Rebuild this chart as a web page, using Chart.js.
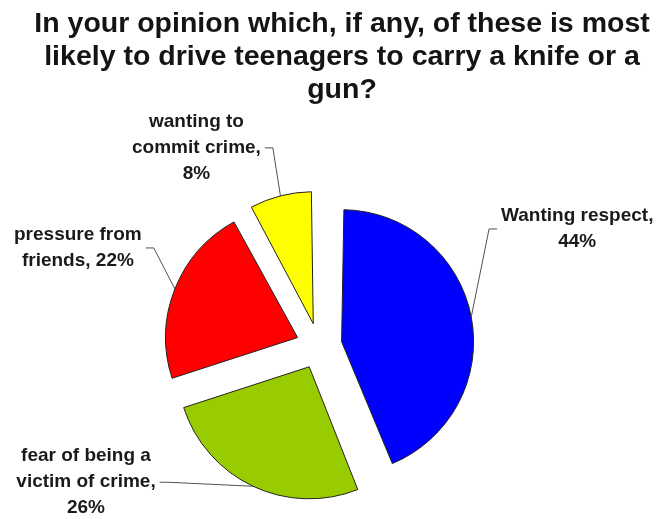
<!DOCTYPE html>
<html>
<head>
<meta charset="utf-8">
<script src="https://cdn.jsdelivr.net/npm/chart.js@4/dist/chart.umd.min.js"></script>
<style>
    html, body { margin: 0; padding: 0; background: #fff; }
    #wrap { position: relative; width: 660px; height: 519px; overflow: hidden; }
    #wrap canvas { position: absolute; left: 0; top: 0; }
    #title {
        position: absolute; left: 0; top: 6px; width: 684px;
        text-align: center; color: #141414;
        font: bold 28.5px "Liberation Sans", Arial, sans-serif; line-height: 33px;
    }
</style>
</head>
<body>
<div id="wrap">
    <canvas id="chart" width="660" height="519"></canvas>
    <div id="title">In your opinion which, if any, of these is most<br>likely to drive teenagers to carry a knife or a<br>gun?</div>
</div>
<script>
const categories = ["Wanting respect", "fear of being a victim of crime", "pressure from friends", "wanting to commit crime"];
const shares = [44, 26, 22, 8];
const sliceColors = ["#0000ff", "#99cc00", "#ff0000", "#ffff00"];

// label block centre, measured from the point where its leader line meets the slice
const labelShift = [[106, -88], [-167, -4], [-97, -41], [-84, -48]];

const pieRadius = 132;
const explode = 92;   // chart.js moves an arc by offset / 4
const labelFont = "bold 19px 'Liberation Sans', Arial, sans-serif";

function wrapWords(ctx, text, maxWidth) {
    const words = text.split(" ");
    const lines = [];
    let line = words[0];
    for (const word of words.slice(1)) {
        const test = line + " " + word;
        if (ctx.measureText(test).width > maxWidth) {
            lines.push(line);
            line = word;
        } else
            line = test;
    }
    lines.push(line);
    return lines;
}

// chart.js widens an offset arc by (offset/4)*(1 - sin(angle)); take that back so every slice has the same radius
const evenRadius = {
    id: "evenRadius",
    afterDatasetUpdate(chart, args) {
        args.meta.data.forEach((arc) => {
            const fix = 1 - Math.sin(Math.min(Math.PI, arc.circumference));
            arc.outerRadius = pieRadius - (arc.options.offset / 4) * fix;
        });
    }
};

const sliceLabels = {
    id: "sliceLabels",
    afterDatasetsDraw(chart) {
        const ctx = chart.ctx;
        const meta = chart.getDatasetMeta(0);
        ctx.save();
        ctx.font = labelFont;
        meta.data.forEach((arc, i) => {
            const mid = (arc.startAngle + arc.endAngle) / 2;
            const reach = arc.options.offset / 4 + pieRadius;
            const ax = arc.x + Math.cos(mid) * reach;
            const ay = arc.y + Math.sin(mid) * reach;

            const lines = wrapWords(ctx, categories[i] + ", " + shares[i] + "%", 157);
            const cx = ax + labelShift[i][0];
            const cy = ay + labelShift[i][1];
            const lineHeight = 26;
            const w = Math.max(...lines.map((l) => ctx.measureText(l).width));

            const dir = ax > cx ? 1 : -1;
            const edge = cx + dir * (w / 2 + 4);
            ctx.strokeStyle = "#505050";
            ctx.lineWidth = 1;
            ctx.beginPath();
            ctx.moveTo(edge, cy);
            ctx.lineTo(edge + dir * 8, cy);
            ctx.lineTo(ax, ay);
            ctx.stroke();

            ctx.fillStyle = "#1a1a1a";
            ctx.textAlign = "center";
            ctx.textBaseline = "middle";
            lines.forEach((l, k) => {
                ctx.fillText(l, cx, cy + (k - (lines.length - 1) / 2) * lineHeight);
            });
        });
        ctx.restore();
    }
};

new Chart(document.getElementById("chart"), {
    type: "pie",
    data: {
        labels: categories,
        datasets: [{
            data: shares,
            backgroundColor: sliceColors,
            borderColor: "#222",
            borderWidth: 1,
            offset: explode,
            radius: pieRadius
        }]
    },
    options: {
        responsive: false,
        animation: false,
        devicePixelRatio: 1,
        layout: { padding: { top: 173, right: 22, bottom: 0, left: 0 } },
        plugins: {
            legend: { display: false },
            tooltip: { enabled: false },
            title: { display: false }
        }
    },
    plugins: [evenRadius, sliceLabels]
});
</script>
</body>
</html>
